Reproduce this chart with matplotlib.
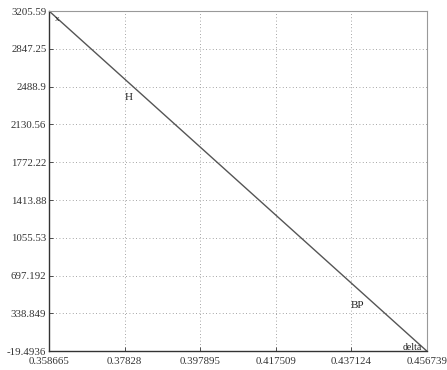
import numpy as np
import matplotlib
matplotlib.use("Agg")
from matplotlib import pyplot as plt

# curve data (continuation branch)
xs = [0.358665, 0.456739]
ys = [3205.59, -19.4936]

# point labels
lab_text = ["x", "H", "BP", "delta"]
lab_x = [0.36074, 0.37942, 0.43884, 0.45285]
lab_y = [3129.7, 2389.8, 416.9, 18.5]

xtick_labels = ["0.358665", "0.37828", "0.397895", "0.417509", "0.437124", "0.456739"]
ytick_labels = ["-19.4936", "338.849", "697.192", "1055.53", "1413.88",
                "1772.22", "2130.56", "2488.9", "2847.25", "3205.59"]

plt.rcParams["font.family"] = ["Liberation Serif", "DejaVu Serif"]

fig = plt.figure(figsize=(4.47, 3.70), dpi=100)
ax = fig.add_axes([0.110, 0.051, 0.845, 0.919])

ax.plot(xs, ys, color="#555555", lw=1.0)

for t, x, y in zip(lab_text, lab_x, lab_y):
    fs = {"x": 6.5, "H": 8, "BP": 8, "delta": 7}[t]
    ax.text(x, y, t, fontsize=fs, ha="center", va="center", color="#222222")

xmin, xmax = min(xs), max(xs)
ymin, ymax = min(ys), max(ys)
ax.set_xlim(xmin, xmax)
ax.set_ylim(ymin, ymax)
ax.set_xticks(np.linspace(xmin, xmax, len(xtick_labels)))
ax.set_xticklabels(xtick_labels)
ax.set_yticks(np.linspace(ymin, ymax, len(ytick_labels)))
ax.set_yticklabels(ytick_labels)

ax.tick_params(direction="in", length=3, width=0.6, labelsize=7.8, colors="#333333")
ax.tick_params(axis="x", pad=4)
ax.tick_params(axis="y", pad=2)
ax.grid(True, linestyle=(0, (1, 3)), color="#888888", lw=0.6)

for side in ["left", "bottom"]:
    ax.spines[side].set_color("#333333")
    ax.spines[side].set_linewidth(1.0)
for side in ["top", "right"]:
    ax.spines[side].set_color("#999999")
    ax.spines[side].set_linewidth(0.8)

fig.savefig("out.png", dpi=100)
